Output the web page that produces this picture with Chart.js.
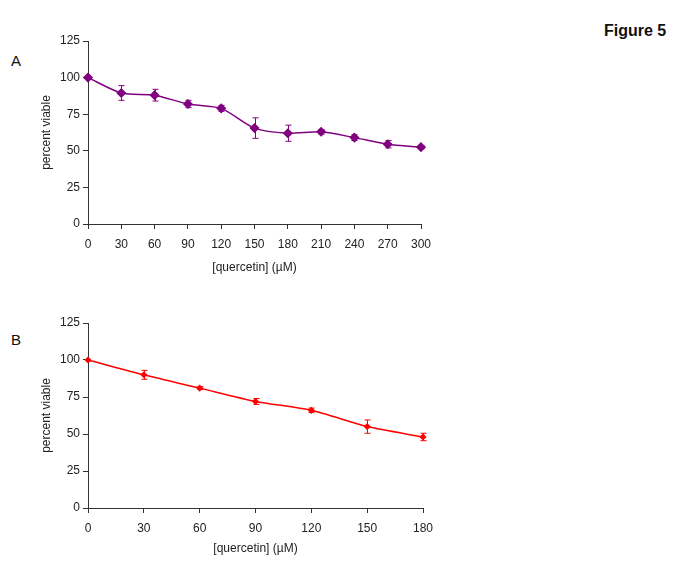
<!DOCTYPE html>
<html>
<head>
<meta charset="utf-8">
<script src="https://cdn.jsdelivr.net/npm/chart.js@4"></script>
<style>
  body { margin: 0; background: #fff; font-family: "Liberation Sans", Arial, sans-serif; }
  .wrap { position: relative; width: 685px; height: 575px; }
  .lbl { position: absolute; font-size: 15px; color: #111; }
  .box { position: absolute; left: 0; width: 450px; }
</style>
</head>
<body>
<div class="wrap">
  <div class="lbl" style="left:11px; top:52px;">A</div>
  <div class="lbl" style="left:11px; top:331px;">B</div>
  <div class="lbl" style="left:604px; top:22px; font-weight:bold; font-size:16px;">Figure 5</div>
  <div class="box" style="top:30px; height:249px;"><canvas id="chart-a"></canvas></div>
  <div class="box" style="top:312px; height:248px;"><canvas id="chart-b"></canvas></div>
</div>
<script>
// panel A
const concA = [0, 30, 60, 90, 120, 150, 180, 210, 240, 270, 300];
const viableA = [100, 89.5, 88, 82, 79, 65.5, 62, 63, 59, 54.5, 52.5];
const errA = [0, 5, 4, 2.5, 2, 7, 5.5, 1.5, 2, 2.5, 1];

// panel B
const concB = [0, 30, 60, 90, 120, 150, 180];
const viableB = [100, 90, 81, 72, 66, 55, 48];
const errB = [0, 3, 1, 2, 1.5, 4.5, 2.5];

const yTicks = [0, 25, 50, 75, 100, 125];

const axisColor = "#333";
const font = { family: "Liberation Sans, Arial, sans-serif", size: 12 };

// barres d'erreur dessinees avec les echelles du graphique
const errorBars = {
  id: "errorBars",
  afterDatasetsDraw(chart) {
    const ctx = chart.ctx;
    const xs = chart.scales.x;
    const ys = chart.scales.y;
    chart.data.datasets.forEach((ds) => {
      if (!ds.errors) return;
      ctx.save();
      ctx.strokeStyle = ds.borderColor;
      ctx.lineWidth = 1;
      ds.data.forEach((p, i) => {
        const e = ds.errors[i];
        if (!e) return;
        const x = Math.round(xs.getPixelForValue(p.x)) + 0.5;
        const y1 = ys.getPixelForValue(p.y + e);
        const y2 = ys.getPixelForValue(p.y - e);
        ctx.beginPath();
        ctx.moveTo(x, y1); ctx.lineTo(x, y2);
        ctx.moveTo(x - 3, y1); ctx.lineTo(x + 3, y1);
        ctx.moveTo(x - 3, y2); ctx.lineTo(x + 3, y2);
        ctx.stroke();
      });
      ctx.restore();
    });
  },
};

function makeChart(id, conc, viable, err, color, radius, xMax, rightPad, titleGap) {
  const el = document.getElementById(id);
  return new Chart(el, {
    type: "line",
    data: {
      datasets: [
        {
          data: conc.map((c, i) => ({ x: c, y: viable[i] })),
          errors: err,
          borderColor: color,
          backgroundColor: color,
          borderWidth: 1.5,
          pointStyle: "rectRot",
          pointRadius: radius,
          pointHoverRadius: radius,
          tension: 0.25,
          fill: false,
          clip: false, // pas de coupure des marqueurs aux bords
        },
      ],
    },
    options: {
      responsive: true,
      maintainAspectRatio: false,
      animation: false,
      layout: { padding: { left: 35, right: rightPad, top: 11, bottom: 0 } },
      plugins: { legend: { display: false }, tooltip: { enabled: false } },
      scales: {
        x: {
          type: "linear",
          min: 0,
          max: xMax,
          afterBuildTicks: (s) => {
            s.ticks = conc.map((v) => ({ value: v }));
          },
          afterFit: (s) => { s.height = titleGap; },
          border: { color: axisColor, width: 1 },
          grid: { drawOnChartArea: false, color: axisColor, tickLength: 5 },
          ticks: { color: "#222", font: font, padding: 8, maxRotation: 0 },
          title: { display: true, text: "[quercetin] (µM)", color: "#222", font: font, padding: 4 },
        },
        y: {
          min: 0,
          max: 125,
          afterBuildTicks: (s) => {
            s.ticks = yTicks.map((v) => ({ value: v }));
          },
          afterFit: (s) => { s.width = 53; },
          border: { color: axisColor, width: 1 },
          grid: { drawOnChartArea: false, color: axisColor, tickLength: 5 },
          ticks: { color: "#222", font: font, padding: 3 },
          title: { display: true, text: "percent viable", color: "#222", font: font, padding: { top: 4, bottom: 0 } },
        },
      },
    },
    plugins: [errorBars],
  });
}

makeChart("chart-a", concA, viableA, errA, "#800080", 4, 300, 29, 55);
makeChart("chart-b", concB, viableB, errB, "#ff0000", 2.5, 180, 27, 52);
</script>
</body>
</html>
